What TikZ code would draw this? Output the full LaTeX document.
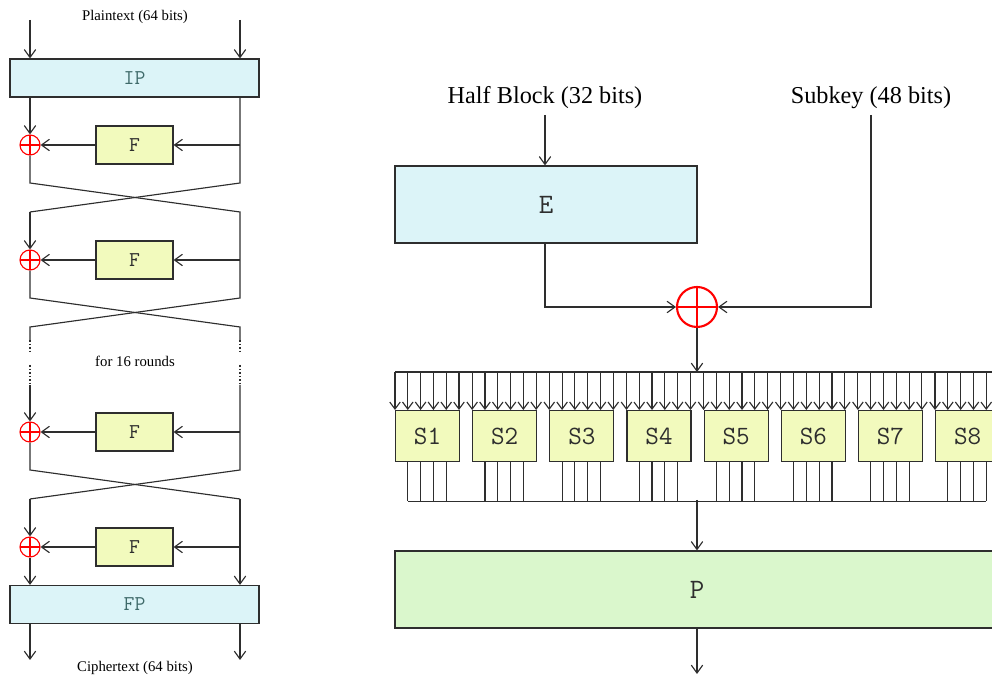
\documentclass[tikz,border=0pt]{standalone}
\usepackage{fontspec}
\setmainfont{Liberation Serif}
\usetikzlibrary{arrows.meta,calc,positioning}
\definecolor{wire}{HTML}{2E2E2E}
\definecolor{perm}{HTML}{DCF4F8}
\definecolor{feist}{HTML}{F2FABD}
\definecolor{pgreen}{HTML}{DAF7CC}
\definecolor{permtext}{HTML}{3F6A6A}

\begin{document}
\begin{tikzpicture}[x=0.02cm,y=-0.02cm,line width=0.65pt,color=wire,
  >={Straight Barb[length=4.5pt,width=6.5pt]},
  small/.style={>={Straight Barb[length=4pt,width=6pt]}},
  lbl/.style={font=\fontsize{8.4}{10}\selectfont,text=black},
  biglbl/.style={font=\fontsize{13.8}{16}\selectfont,text=black},
  permbox/.style={draw=wire,fill=perm,text=permtext,font=\ttfamily\fontsize{12}{12}\selectfont,minimum width=4.98cm,minimum height=0.76cm,inner sep=0pt},
  fbox/.style={draw=wire,fill=feist,font=\ttfamily\fontsize{12}{12}\selectfont,minimum width=1.54cm,minimum height=0.76cm,inner sep=0pt},
  sbox/.style={draw=wire,fill=feist,font=\ttfamily\fontsize{15}{15}\selectfont,minimum width=1.28cm,minimum height=1.02cm,inner sep=0pt},
  xorop/.style={circle,draw=red,minimum size=0.4cm,inner sep=0pt,
    path picture={\draw[red] (path picture bounding box.north) -- (path picture bounding box.south)
      (path picture bounding box.west) -- (path picture bounding box.east);}},
  bigxor/.style={xorop,line width=1.2pt,minimum size=0.8cm}]
\useasboundingbox (0,0) rectangle (992,675);
\clip (0,0) rectangle (992,675);

% left: 16 round network
\node[lbl] (pt) at (135,16.5) {Plaintext (64 bits)};
\coordinate (inL) at (30,20); \coordinate (inR) at (240,20);
\node[permbox] (ip) at (134.5,78) {IP};
\draw[->] (inL) -- (inL |- ip.north);
\draw[->] (inR) -- (inR |- ip.north);
\foreach \n/\y in {1/145,2/260,3/432,4/547}{
  \node[fbox] (f\n) at (134.5,\y) {F};
  \node[xorop] (x\n) at (30,\y) {};
  \coordinate (r\n) at (240,\y);
  \draw[->] (r\n) -- (f\n);
  \draw[->] (f\n) -- (x\n);
}
\coordinate (a1) at (30,183); \coordinate (b1) at (240,183);
\coordinate (c1) at (30,212); \coordinate (d1) at (240,212);
\coordinate (a2) at (30,298); \coordinate (b2) at (240,298);
\coordinate (c2) at (30,327); \coordinate (d2) at (240,327);
\coordinate (a3) at (30,470); \coordinate (b3) at (240,470);
\coordinate (c3) at (30,499); \coordinate (d3) at (240,499);
\coordinate (gL1) at (30,340); \coordinate (gR1) at (240,340);
\coordinate (gL2) at (30,353); \coordinate (gR2) at (240,353);
\coordinate (gL3) at (30,365); \coordinate (gR3) at (240,365);
\coordinate (gL4) at (30,385); \coordinate (gR4) at (240,385);
\draw[->] (ip.south -| x1) -- (x1);
\draw (ip.south -| r1) -- (b1) -- (c1);
\draw[->] (c1) -- (x2);
\draw (x1) -- (a1) -- (d1) -- (b2) -- (c2) -- (gL1);
\draw (x2) -- (a2) -- (d2) -- (gR1);
\draw[dash pattern=on 1pt off 1pt] (gL1) -- (gL2) (gL3) -- (gL4) (gR1) -- (gR2) (gR3) -- (gR4);
\node[lbl] (rounds) at (135,361) {for 16 rounds};
\draw[->] (gL4) -- (x3);
\draw (gR4) -- (b3) -- (c3);
\draw[->] (c3) -- (x4);
\node[permbox] (fp) at (134.5,604.5) {FP};
\draw (x3) -- (a3) -- (d3);
\draw[->] (d3) -- (fp.north -| d3);
\draw[->] (x4) -- (fp.north -| x4);
\coordinate (outL) at (30,660); \coordinate (outR) at (240,660);
\draw[->] (fp.south -| outL) -- (outL);
\draw[->] (fp.south -| outR) -- (outR);
\node[lbl] (ct) at (135,667.5) {Ciphertext (64 bits)};

% right: the F function
\node[biglbl] (hb) at (545,98) {Half Block (32 bits)};
\node[biglbl] (sk) at (871,98) {Subkey (48 bits)};
\coordinate (hbin) at (545,115); \coordinate (skin) at (871,115);
\node[permbox,text=wire,font=\ttfamily\fontsize{16}{16}\selectfont,minimum width=6.04cm,minimum height=1.54cm] (e) at (546,204.5) {E};
\draw[->] (hbin) -- (hbin |- e.north);
\node[bigxor] (xx) at (697,307) {};
\draw[->] (e.south -| hbin) |- (xx.west);
\draw[->] (skin) |- (xx.east);
\coordinate (bus) at (697,372);
\coordinate (busL) at (395,372); \coordinate (busR) at (999,372);
\draw[->] (xx) -- (bus);
\draw (busL) -- (busR);
\foreach \i in {1,...,8}{
  \pgfmathsetmacro\sx{395+(\i-1)*77.15}
  \node[sbox,anchor=north west] (s\i) at (\sx,410) {S\i};
  \foreach \k in {0,...,5}
    \draw[->,small] ($(s\i.north west)+(\k*12.8,-38)$) -- ($(s\i.north west)+(\k*12.8,0)$);
  \foreach \k in {1,...,4}
    \draw ($(s\i.south west)+(\k*12.8,0)$) -- ($(s\i.south west)+(\k*12.8,39)$);
}
\coordinate (obL) at ($(s1.south west)+(12.8,39)$);
\coordinate (obR) at ($(s8.south west)+(51.2,39)$);
\draw (obL) -- (obR);
\coordinate (pin) at (697,500);
\node[draw=wire,fill=pgreen,font=\ttfamily\fontsize{16}{16}\selectfont,minimum width=12.08cm,minimum height=1.54cm,inner sep=0pt] (p) at (697,589.5) {P};
\draw[->] (pin) -- (p.north);
\coordinate (pout) at (697,674);
\draw[->] (p.south) -- (pout);
\end{tikzpicture}
\end{document}
